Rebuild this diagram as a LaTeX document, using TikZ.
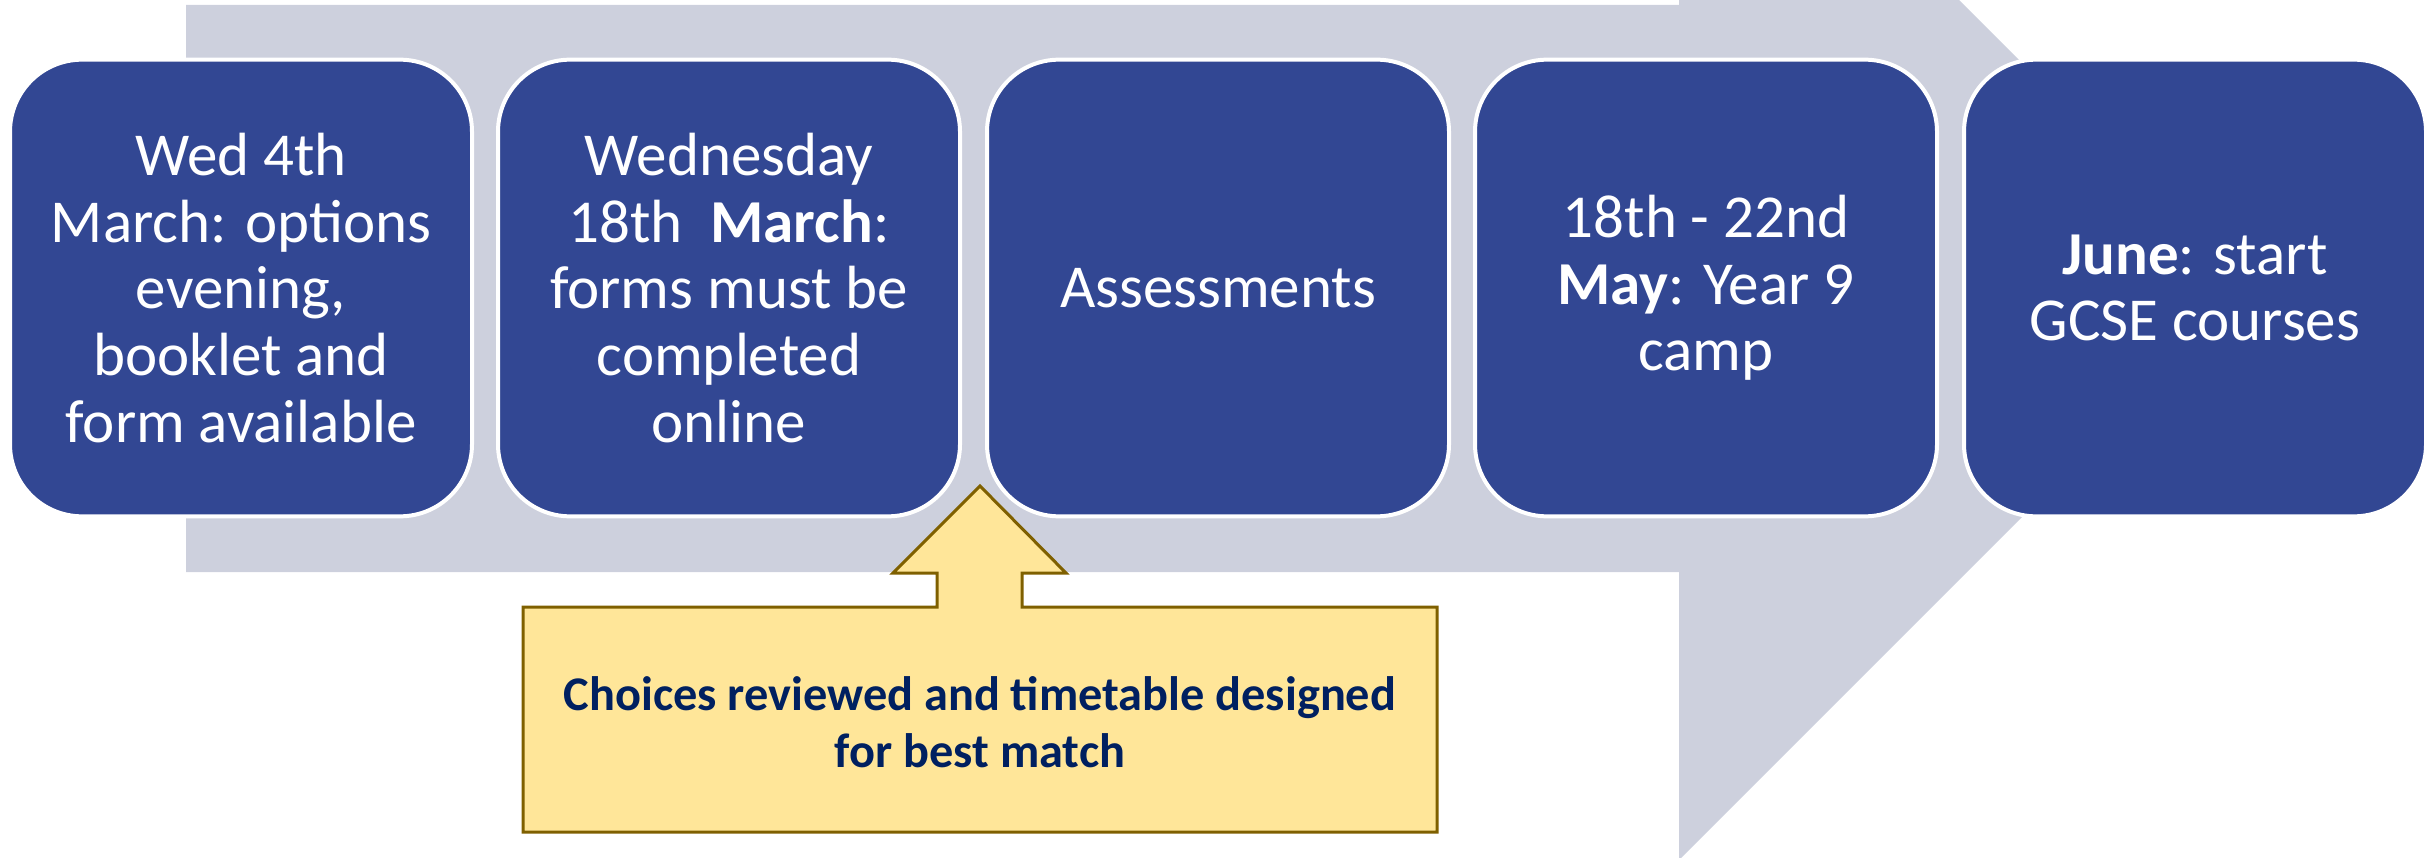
\documentclass[tikz,border=0pt]{standalone}
\usepackage{fontspec}
\setmainfont{Carlito}
\definecolor{boxblue}{RGB}{50,71,147}
\definecolor{arrowgray}{RGB}{205,208,221}
\definecolor{noteyellow}{RGB}{255,230,153}
\definecolor{notebrown}{RGB}{127,96,0}
\definecolor{notenavy}{RGB}{0,32,96}
\begin{document}
\begin{tikzpicture}[
  x = 0.3pt, y = -0.3pt,
  event/.style = {
    shape = rectangle,
    rounded corners = 21.6pt,
    draw = white,
    line width = 1.2pt,
    fill = boxblue,
    text = white,
    minimum width = 138.6pt,
    minimum height = 137pt,
    inner sep = 0pt,
    align = center,
    font = \fontsize{18.3}{20}\selectfont,
  },
  note/.style = {
    fill = noteyellow,
    draw = notebrown,
    line width = 0.9pt,
    line join = miter,
  }
]
  \useasboundingbox (0, 0) rectangle (2433, 858);
  \clip (0, 0) rectangle (2433, 858);

  % big arrow behind the boxes
  \fill[arrowgray] (186, 5) -- (1679, 5) -- (1679, -280) -- (2249, 290)
    -- (1679, 860) -- (1679, 572) -- (186, 572) -- cycle;

  \node[event] (wed) at (241, 288)
    {Wed 4th\\March: options\\evening,\\booklet and\\form available};
  \node[event] (forms) at (729, 288)
    {Wednesday\\18th\ \ \textbf{March}:\\forms must be\\completed\\online};
  \node[event] (assess) at (1218, 288) {Assessments};
  \node[event] (camp) at (1706, 288)
    {18th - 22nd\\\textbf{May}: Year 9\\camp};
  \node[event] (june) at (2195, 288)
    {\textbf{June}: start\\GCSE courses};

  % callout below
  \draw[note] (523, 607) -- (937, 607) -- (937, 573) -- (893, 573)
    -- (980, 486) -- (1066, 573) -- (1022, 573) -- (1022, 607)
    -- (1437, 607) -- (1437, 832) -- (523, 832) -- cycle;
  \node[align = center, text = notenavy,
    font = \bfseries\fontsize{14.5}{17.2}\selectfont] (review) at (980, 722)
    {Choices reviewed and timetable designed\\for best match};
\end{tikzpicture}
\end{document}
